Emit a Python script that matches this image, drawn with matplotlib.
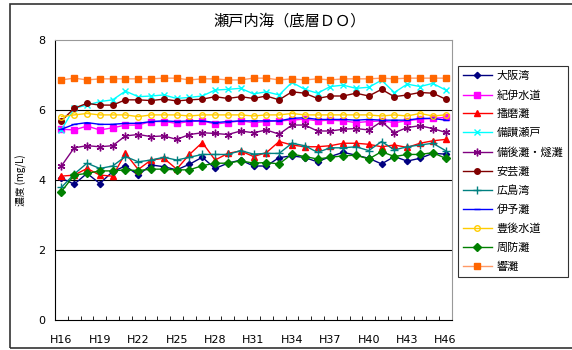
import matplotlib
matplotlib.use("Agg")
import matplotlib.pyplot as plt
from matplotlib.patches import Rectangle
import numpy as np

plt.rcParams['font.family'] = ['Noto Sans CJK JP', 'DejaVu Sans']

years = [f"H{y}" for y in range(16, 47)]
tick_labels = [f"H{y}" for y in range(16, 47, 3)]

osaka = [4.05, 3.88, 4.19, 3.90, 4.24, 4.40, 4.14, 4.43, 4.38, 4.29, 4.45, 4.65, 4.33, 4.48, 4.57, 4.40,
         4.40, 4.64, 4.69, 4.64, 4.52, 4.67, 4.79, 4.71, 4.62, 4.46, 4.67, 4.54, 4.62, 4.76, 4.74]
kii = [5.45, 5.43, 5.54, 5.43, 5.49, 5.57, 5.57, 5.67, 5.67, 5.62, 5.67, 5.69, 5.60, 5.64, 5.69, 5.64,
       5.67, 5.69, 5.71, 5.74, 5.69, 5.71, 5.69, 5.64, 5.67, 5.69, 5.64, 5.69, 5.74, 5.76, 5.79]
harima = [4.11, 4.14, 4.33, 4.14, 4.11, 4.76, 4.30, 4.57, 4.62, 4.31, 4.73, 5.07, 4.57, 4.76, 4.83, 4.67,
          4.78, 5.10, 5.00, 4.95, 4.95, 4.98, 5.05, 5.05, 5.02, 4.95, 5.00, 4.93, 5.05, 5.12, 5.16]
bisan = [5.43, 6.05, 6.14, 6.24, 6.29, 6.54, 6.38, 6.40, 6.43, 6.33, 6.36, 6.40, 6.57, 6.59, 6.62, 6.46,
         6.52, 6.43, 6.79, 6.59, 6.48, 6.67, 6.71, 6.62, 6.65, 6.85, 6.50, 6.74, 6.67, 6.76, 6.57]
bingo = [4.40, 4.92, 4.98, 4.95, 4.98, 5.26, 5.30, 5.24, 5.26, 5.16, 5.30, 5.35, 5.33, 5.30, 5.40, 5.35,
         5.43, 5.31, 5.57, 5.57, 5.40, 5.40, 5.45, 5.47, 5.43, 5.67, 5.35, 5.50, 5.55, 5.47, 5.36]
aki = [5.69, 6.05, 6.19, 6.14, 6.14, 6.29, 6.29, 6.27, 6.31, 6.26, 6.29, 6.31, 6.38, 6.33, 6.38, 6.33,
       6.40, 6.29, 6.52, 6.48, 6.33, 6.40, 6.40, 6.48, 6.40, 6.59, 6.38, 6.43, 6.50, 6.48, 6.31]
hiroshima = [3.79, 4.17, 4.48, 4.33, 4.40, 4.67, 4.52, 4.57, 4.65, 4.57, 4.65, 4.73, 4.73, 4.73, 4.84, 4.74,
             4.76, 4.76, 5.05, 4.98, 4.79, 4.92, 4.92, 4.95, 4.84, 5.10, 4.86, 4.95, 5.00, 5.05, 4.84]
iyo = [5.45, 5.59, 5.64, 5.59, 5.59, 5.62, 5.62, 5.67, 5.69, 5.67, 5.69, 5.69, 5.64, 5.67, 5.69, 5.69,
       5.69, 5.69, 5.76, 5.78, 5.73, 5.73, 5.73, 5.71, 5.73, 5.71, 5.71, 5.71, 5.76, 5.76, 5.71]
bungo = [5.81, 5.86, 5.90, 5.86, 5.86, 5.86, 5.81, 5.86, 5.86, 5.86, 5.83, 5.86, 5.86, 5.86, 5.86, 5.83,
         5.86, 5.86, 5.90, 5.86, 5.86, 5.86, 5.86, 5.86, 5.86, 5.83, 5.86, 5.83, 5.90, 5.83, 5.86]
suo = [3.67, 4.14, 4.19, 4.26, 4.26, 4.29, 4.27, 4.31, 4.31, 4.29, 4.29, 4.41, 4.48, 4.48, 4.55, 4.48,
       4.50, 4.46, 4.74, 4.67, 4.60, 4.65, 4.69, 4.71, 4.60, 4.81, 4.67, 4.73, 4.73, 4.78, 4.62]
hibiki = [6.86, 6.91, 6.86, 6.89, 6.89, 6.89, 6.89, 6.89, 6.91, 6.91, 6.86, 6.89, 6.89, 6.86, 6.86, 6.91,
          6.91, 6.86, 6.89, 6.86, 6.89, 6.86, 6.89, 6.89, 6.89, 6.91, 6.89, 6.91, 6.91, 6.91, 6.91]

series = [
    ("大阪湾", osaka, "#000080", "#000080", "D", 3.2, "#000080"),
    ("紀伊水道", kii, "#FF00FF", "#FF00FF", "s", 3.8, "#FF00FF"),
    ("播磨灘", harima, "#FF0000", "#FF0000", "^", 4.5, "#FF0000"),
    ("備讃瀬戸", bisan, "#00FFFF", "#00FFFF", "x", 4.5, "#00FFFF"),
    ("備後灘・燧灘", bingo, "#800080", "#800080", (6, 2, 0), 5.5, "#800080"),
    ("安芸灘", aki, "#800000", "#800000", "o", 4.0, "#800000"),
    ("広島湾", hiroshima, "#008080", "#008080", "+", 5.5, "#008080"),
    ("伊予灘", iyo, "#0000FF", "#0000FF", "_", 4.0, "#0000FF"),
    ("豊後水道", bungo, "#FFCC00", "#FFCC00", "o", 4.0, "none"),
    ("周防灘", suo, "#008000", "#008000", "D", 3.6, "#008000"),
    ("響灘", hibiki, "#FF9966", "#FF6600", "s", 4.0, "#FF6600"),
]

fig = plt.figure(figsize=(5.72, 3.5), dpi=100)
ax = fig.add_axes([55/572, 30/350, 397/572, 280/350])

x = np.arange(len(years))
for name, vals, lc, mc, mk, ms, mfc in series:
    ax.plot(x, vals, color=lc, lw=1.0, marker=mk, markersize=ms,
            markeredgecolor=mc, markerfacecolor=mfc, markeredgewidth=1.0, label=name)

ax.set_xlim(-0.5, len(years) - 0.5)
ax.set_ylim(0, 8)
ax.set_yticks([0, 2, 4, 6, 8])
ax.set_yticklabels(["0", "2", "4", "6", "8"], fontsize=8, family="DejaVu Sans")
for yv in [2, 4, 6]:
    ax.axhline(yv, color="black", lw=0.8, zorder=0)
ax.set_xticks(np.arange(0, len(years), 3))
ax.set_xticklabels(tick_labels, fontsize=8, family="DejaVu Sans")
ax.set_xticks(np.arange(-0.5, len(years), 1), minor=True)
ax.tick_params(axis='x', which='major', length=0, pad=11)
ax.tick_params(axis='x', which='minor', length=3, direction='in')
ax.tick_params(axis='y', length=0, pad=7)
ax.spines['top'].set_color('#999999')
ax.spines['right'].set_color('#999999')
ax.spines['left'].set_color('black')
ax.spines['bottom'].set_color('black')
ax.set_ylabel("濃度 (mg/L)", fontsize=7, labelpad=8)

fig.text(290/572, 1 - 21/350, "瀬戸内海（底層ＤＯ）", ha='center', va='center', fontsize=11)

leg = fig.legend(loc='upper left', bbox_to_anchor=(458/572, 1 - 66/350), fontsize=8,
                 frameon=True, fancybox=False, edgecolor='black', handlelength=2.6,
                 borderpad=0.45, labelspacing=0.78, handletextpad=0.4, borderaxespad=0)
leg.get_frame().set_linewidth(0.8)

fig.patches.append(Rectangle((10/572, 2/350), 600/572, 344/350, transform=fig.transFigure,
                             fill=False, edgecolor='#333333', lw=1.2))

fig.savefig("out.png", dpi=100)
